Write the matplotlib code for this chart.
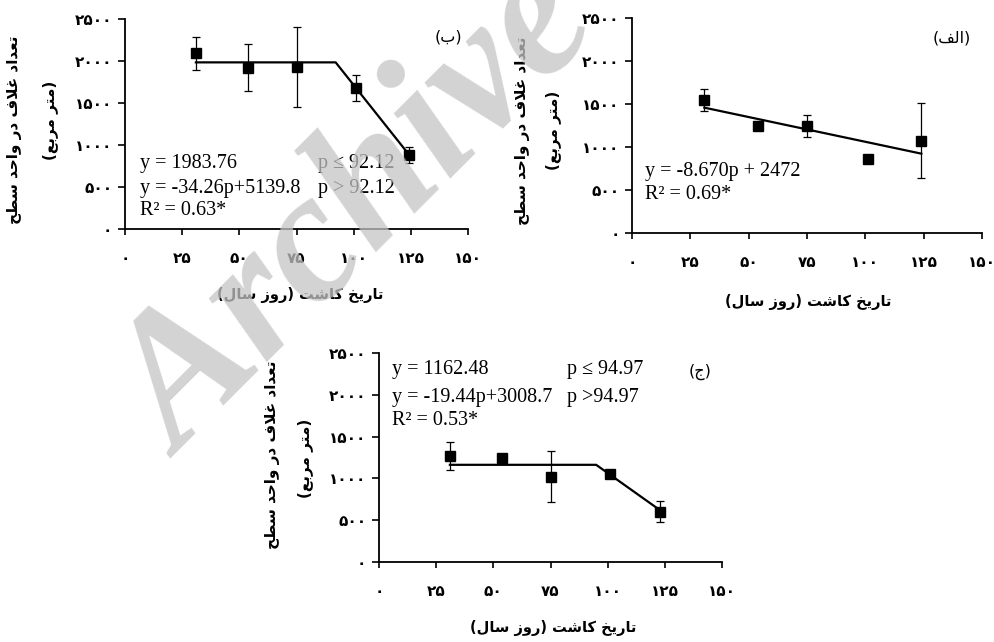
import numpy as np
import matplotlib
matplotlib.use('Agg')
import matplotlib.pyplot as plt

plt.rcParams['font.family'] = ['DejaVu Sans']

# ---- data ----
x_ticks = [0, 25, 50, 75, 100, 125, 150]
x_tick_labels = ['۰', '۲۵', '۵۰', '۷۵', '۱۰۰', '۱۲۵', '۱۵۰']
y_ticks = [0, 500, 1000, 1500, 2000, 2500]
y_tick_labels = ['۰', '۵۰۰', '۱۰۰۰', '۱۵۰۰', '۲۰۰۰', '۲۵۰۰']

y_label = 'تعداد غلاف در واحد سطح'
y_unit = '(متر مربع)'
x_label = 'تاریخ کاشت (روز سال)'

# panel (الف)
alef_x = [31, 54, 75, 101, 124]
alef_y = [1547, 1244, 1244, 857, 1073]
alef_err = [125, 20, 128, 20, 437]
alef_text = ['y = -8.670p + 2472', 'R² = 0.69*']

# panel (ب)
be_x = [31, 54, 75, 101, 124]
be_y = [2092, 1920, 1932, 1675, 881]
be_err = [198, 277, 476, 157, 100]
be_plateau, be_break, be_slope, be_icpt = 1983.76, 92.12, -34.26, 5139.8
be_text = ['y = 1983.76', 'y = -34.26p+5139.8', 'R² = 0.63*']
be_cond = ['p ≤ 92.12', 'p > 92.12']

# panel (ج)
je_x = [31, 54, 75, 101, 123]
je_y = [1268, 1240, 1020, 1053, 602]
je_err = [165, 50, 303, 40, 126]
je_plateau, je_break, je_slope, je_icpt = 1162.48, 94.97, -19.44, 3008.7
je_text = ['y = 1162.48', 'y = -19.44p+3008.7', 'R² = 0.53*']
je_cond = ['p ≤ 94.97', 'p >94.97']


# ---- minimal Persian shaping (matplotlib has no bidi / joining) ----
FORMS = {
    'ا': ('\uFE8D', '\uFE8E', None, None),
    'ب': ('\uFE8F', '\uFE90', '\uFE91', '\uFE92'),
    'ت': ('\uFE95', '\uFE96', '\uFE97', '\uFE98'),
    'ج': ('\uFE9D', '\uFE9E', '\uFE9F', '\uFEA0'),
    'ح': ('\uFEA1', '\uFEA2', '\uFEA3', '\uFEA4'),
    'خ': ('\uFEA5', '\uFEA6', '\uFEA7', '\uFEA8'),
    'د': ('\uFEA9', '\uFEAA', None, None),
    'ر': ('\uFEAD', '\uFEAE', None, None),
    'ز': ('\uFEAF', '\uFEB0', None, None),
    'س': ('\uFEB1', '\uFEB2', '\uFEB3', '\uFEB4'),
    'ش': ('\uFEB5', '\uFEB6', '\uFEB7', '\uFEB8'),
    'ط': ('\uFEC1', '\uFEC2', '\uFEC3', '\uFEC4'),
    'ع': ('\uFEC9', '\uFECA', '\uFECB', '\uFECC'),
    'غ': ('\uFECD', '\uFECE', '\uFECF', '\uFED0'),
    'ف': ('\uFED1', '\uFED2', '\uFED3', '\uFED4'),
    'ل': ('\uFEDD', '\uFEDE', '\uFEDF', '\uFEE0'),
    'م': ('\uFEE1', '\uFEE2', '\uFEE3', '\uFEE4'),
    'و': ('\uFEED', '\uFEEE', None, None),
    'ک': ('\uFB8E', '\uFB8F', '\uFB90', '\uFB91'),
    'ی': ('\uFBFC', '\uFBFD', '\uFBFE', '\uFBFF'),
}


def fa(s):
    out = []
    i = 0
    n = len(s)
    while i < n:
        c = s[i]
        if c not in FORMS:
            out.append(c)
            i += 1
            continue
        prev = s[i - 1] if i > 0 else ''
        joins_prev = prev in FORMS and FORMS[prev][2] is not None
        if c == 'ل' and i + 1 < n and s[i + 1] == 'ا':
            out.append('\uFEFC' if joins_prev else '\uFEFB')
            i += 2
            continue
        nxt = s[i + 1] if i + 1 < n else ''
        joins_next = nxt in FORMS and FORMS[c][2] is not None
        iso, fin, ini, med = FORMS[c]
        if joins_prev and joins_next:
            out.append(med)
        elif joins_prev:
            out.append(fin)
        elif joins_next:
            out.append(ini)
        else:
            out.append(iso)
        i += 1
    vis = ''.join(reversed(out))
    return vis.translate(str.maketrans('()', ')('))


fig = plt.figure(figsize=(9.95, 6.42), dpi=100)

serif = 'Liberation Serif'
eq_size = 14.5


def setup(ax):
    ax.set_xlim(0, 150)
    ax.set_ylim(0, 2500)
    for s in ['top', 'right']:
        ax.spines[s].set_visible(False)
    for s in ['left', 'bottom']:
        ax.spines[s].set_linewidth(1.3)
    ax.set_xticks(x_ticks)
    ax.set_xticklabels(x_tick_labels, fontweight='bold', fontsize=11)
    ax.set_yticks(y_ticks)
    ax.set_yticklabels(y_tick_labels, fontweight='bold', fontsize=11)
    ax.tick_params(axis='x', direction='out', length=4, width=1.2, pad=12)
    ax.tick_params(axis='y', direction='out', length=5, width=1.2, pad=4)


def draw_points(ax, x, y, err):
    ax.errorbar(x, y, yerr=err, fmt='s', color='black', ms=7.5, ecolor='black',
                elinewidth=0.9, capsize=3, capthick=0.9, zorder=3)


def seg_line(ax, x, plateau, brk, slope, icpt):
    px = np.array([min(x), brk, max(x)])
    py = np.where(px <= brk, plateau, slope * px + icpt)
    ax.plot(px, py, color='black', lw=1.6, zorder=2)


def ylabels(cx_main, cx_unit, cy_main, cy_unit):
    fig.text(cx_main / 995, 1 - cy_main / 642, fa(y_label), rotation=90,
             ha='center', va='center', fontsize=11, fontweight='bold')
    fig.text(cx_unit / 995, 1 - cy_unit / 642, fa(y_unit), rotation=90,
             ha='center', va='center', fontsize=11, fontweight='bold')


def xlabel(cx, cy):
    fig.text(cx / 995, 1 - cy / 642, fa(x_label), ha='center', va='center',
             fontsize=10.5, fontweight='bold')


# ---- panel (ب), top left ----
ax_b = fig.add_axes([125 / 995, 1 - 229 / 642, 343 / 995, 210 / 642])
setup(ax_b)
draw_points(ax_b, be_x, be_y, be_err)
seg_line(ax_b, be_x, be_plateau, be_break, be_slope, be_icpt)
for t, yy in zip(be_text, [0.314, 0.195, 0.086]):
    ax_b.text(0.044, yy, t, transform=ax_b.transAxes, family=serif,
              fontsize=eq_size, va='center')
for t, yy in zip(be_cond, [0.314, 0.195]):
    ax_b.text(0.563, yy, t, transform=ax_b.transAxes, family=serif,
              fontsize=eq_size, va='center')
ax_b.text(0.942, 0.914, fa('(ب)'), transform=ax_b.transAxes, ha='center',
          va='center', fontsize=11.5)
ylabels(15, 50, 130, 120)
xlabel(300, 295)

# ---- panel (الف), top right ----
ax_a = fig.add_axes([632 / 995, 1 - 233 / 642, 350 / 995, 215 / 642])
setup(ax_a)
draw_points(ax_a, alef_x, alef_y, alef_err)
k, b = np.polyfit(alef_x, alef_y, 1)
lx = np.array([min(alef_x), max(alef_x)])
ax_a.plot(lx, k * lx + b, color='black', lw=1.6, zorder=2)
for t, yy in zip(alef_text, [0.284, 0.177]):
    ax_a.text(0.037, yy, t, transform=ax_a.transAxes, family=serif,
              fontsize=eq_size, va='center')
ax_a.text(0.914, 0.907, fa('(الف)'), transform=ax_a.transAxes, ha='center',
          va='center', fontsize=11.5)
ylabels(523, 553, 131, 130)
xlabel(808, 302)

# ---- panel (ج), bottom ----
ax_c = fig.add_axes([379 / 995, 1 - 562 / 642, 343 / 995, 209 / 642])
setup(ax_c)
draw_points(ax_c, je_x, je_y, je_err)
seg_line(ax_c, je_x, je_plateau, je_break, je_slope, je_icpt)
for t, yy in zip(je_text, [0.923, 0.789, 0.675]):
    ax_c.text(0.038, yy, t, transform=ax_c.transAxes, family=serif,
              fontsize=eq_size, va='center')
for t, yy in zip(je_cond, [0.923, 0.789]):
    ax_c.text(0.548, yy, t, transform=ax_c.transAxes, family=serif,
              fontsize=eq_size, va='center')
ax_c.text(0.936, 0.909, fa('(ج)'), transform=ax_c.transAxes, ha='center',
          va='center', fontsize=11.5)
ylabels(273, 305, 455, 458)
xlabel(553, 628)

# watermark
fig.text(360 / 995, 1 - 215 / 642, 'Archive', family=serif, fontweight='bold',
         style='italic', fontsize=134, rotation=45, color='#c4c4c4', alpha=0.75,
         ha='center', va='center', zorder=10)

fig.savefig('out.png', dpi=100)
